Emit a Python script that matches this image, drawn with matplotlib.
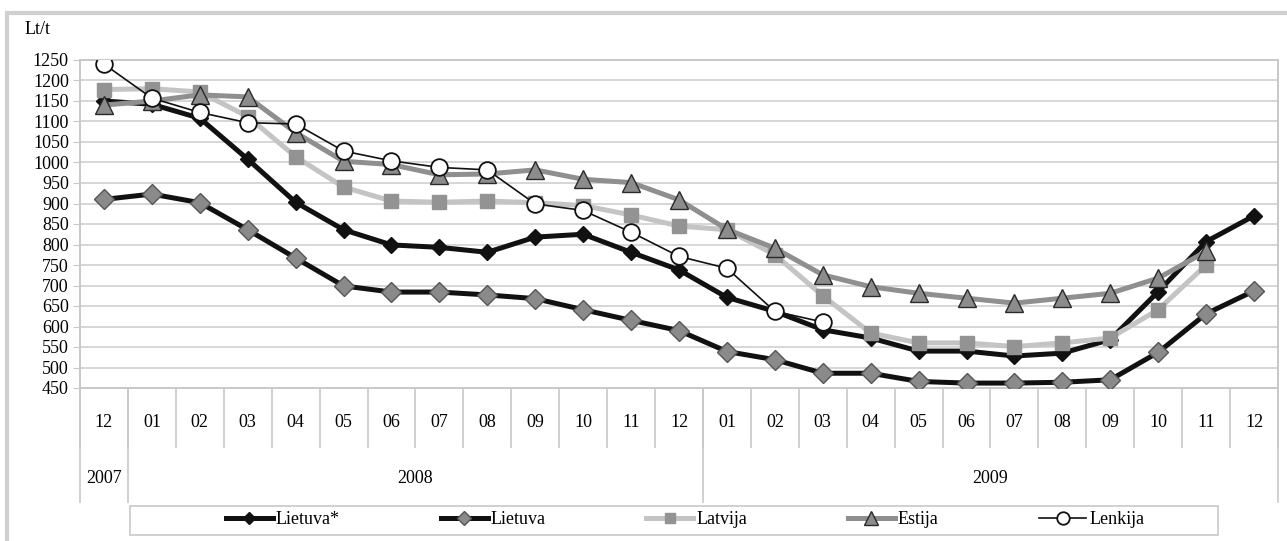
import numpy as np
import matplotlib
matplotlib.use("Agg")
import matplotlib.pyplot as plt
from matplotlib.patches import Rectangle
from matplotlib.lines import Line2D

plt.rcParams['font.family'] = ['Liberation Serif', 'DejaVu Serif']

months = ['12', '01', '02', '03', '04', '05', '06', '07', '08', '09', '10', '11', '12',
          '01', '02', '03', '04', '05', '06', '07', '08', '09', '10', '11', '12']
years = ['2007', '2008', '2009']
year_len = [1, 12, 12]

lietuva_star = [1150, 1142, 1108, 1008, 903, 836, 799, 793, 781, 818, 825, 781, 738,
                671, 637, 592, 572, 540, 540, 528, 535, 568, 685, 807, 870]
lietuva = [910, 923, 902, 836, 767, 699, 684, 684, 677, 668, 641, 615, 590,
           539, 519, 486, 486, 466, 462, 462, 464, 470, 537, 631, 687]
latvija = [1178, 1180, 1172, 1112, 1014, 940, 906, 903, 906, 902, 895, 872, 845,
           836, 775, 675, 584, 560, 560, 551, 560, 572, 641, 750, np.nan]
estija = [1140, 1150, 1165, 1160, 1073, 1003, 995, 970, 972, 982, 959, 951, 909,
          837, 791, 726, 697, 681, 669, 657, 669, 681, 718, 783, np.nan]
lenkija = [1240, 1157, 1122, 1097, 1094, 1028, 1004, 988, 982, 899, 883, 830, 771,
           742, 637, 611, np.nan, np.nan, np.nan, np.nan, np.nan, np.nan, np.nan, np.nan, np.nan]

W, H = 1287, 541
fig = plt.figure(figsize=(W / 100, H / 100), dpi=100)
ax = fig.add_axes([80 / W, 1 - 388 / H, 1198 / W, 328 / H])

x = np.arange(len(months))
ax.plot(x, lietuva_star, color='#111111', lw=3.6, marker='D', ms=8,
        mfc='#111111', mec='#111111', label='Lietuva*', zorder=3)
ax.plot(x, lietuva, color='#111111', lw=3.6, marker='D', ms=10,
        mfc='#8a8a8a', mec='#555555', mew=1, label='Lietuva', zorder=4)
ax.plot(x, latvija, color='#c4c4c4', lw=3.6, marker='s', ms=10,
        mfc='#939393', mec='#939393', label='Latvija', zorder=5)
ax.plot(x, estija, color='#8f8f8f', lw=3.6, marker='^', ms=13,
        mfc='#8c8c8c', mec='#2a2a2a', mew=1, label='Estija', zorder=6)
ax.plot(x, lenkija, color='#111111', lw=1.2, marker='o', ms=12,
        mfc='white', mec='#111111', mew=1.3, label='Lenkija', zorder=7)

ax.set_xlim(-0.5, len(months) - 0.5)
ax.set_ylim(450, 1250)
ax.set_yticks(np.arange(450, 1251, 50))
ax.tick_params(axis='y', labelsize=13, length=5, color='#c8c8c8', pad=3)
ax.set_xticks([])
ax.grid(axis='y', color='#d6d6d6', lw=1.4, zorder=0)
ax.set_axisbelow(True)
for s in ax.spines.values():
    s.set_color('#c8c8c8')
    s.set_linewidth(1.4)

# category axis: months, then years
tr = ax.get_xaxis_transform()
for i, m in enumerate(months):
    ax.text(i, -0.105, m, transform=tr, ha='center', va='center', fontsize=13)
for b in np.arange(-0.5, len(months), 1.0):
    ax.add_line(Line2D([b, b], [0, -0.18], transform=tr,
                       color='#c8c8c8', lw=1.2, clip_on=False))
start = -0.5
for y, n in zip(years, year_len):
    ax.add_line(Line2D([start, start], [0, -0.348], transform=tr,
                       color='#c8c8c8', lw=1.2, clip_on=False))
    ax.text(start + n / 2, -0.275, y, transform=tr,
            ha='center', va='center', fontsize=13)
    start += n
ax.add_line(Line2D([start, start], [0, -0.348], transform=tr,
                   color='#c8c8c8', lw=1.2, clip_on=False))

fig.text(25 / W, 1 - 30 / H, 'Lt/t', fontsize=13, ha='left', va='center')

# legend with its own box
fig.patches.append(Rectangle((130 / W, 1 - 535 / H), 1088 / W, 29 / H,
                             transform=fig.transFigure, fill=False,
                             edgecolor='#c8c8c8', lw=1.2))
fig.legend(loc='center', bbox_to_anchor=(685 / W, 1 - 520 / H), ncol=5,
           frameon=False, fontsize=13, handlelength=2.6, handletextpad=0.15,
           columnspacing=5.6, markerscale=0.75)

# outer frame of the chart
fig.patches.append(Rectangle((7 / W, -0.1), 1.2, 1.1 - 13 / H,
                             transform=fig.transFigure, fill=False,
                             edgecolor='#d0d0d0', lw=3))

fig.savefig('out.png', dpi=100)
